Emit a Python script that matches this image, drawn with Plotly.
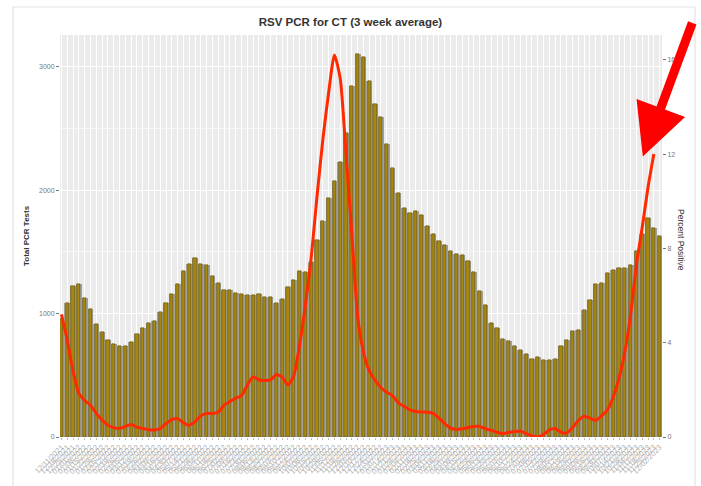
import plotly.graph_objects as go
import pandas as pd

# ---- data ----
week_labels = list(pd.date_range("2021-12-11", periods=104, freq="7D").strftime("%m/%d/%Y"))

total_tests = [
    960, 1090, 1222, 1238, 1130, 1038, 914, 852, 784, 757,
    736, 736, 771, 838, 887, 920, 941, 1014, 1090, 1157,
    1236, 1344, 1406, 1447, 1406, 1398, 1303, 1249, 1190, 1190,
    1171, 1155, 1150, 1150, 1155, 1136, 1136, 1090, 1117, 1217,
    1276, 1344, 1341, 1419, 1595, 1749, 1941, 2076, 2225, 2466,
    2844, 3104, 3082, 2885, 2698, 2590, 2374, 2182, 1974, 1857,
    1817, 1830, 1798, 1709, 1644, 1590, 1555, 1509, 1482, 1474,
    1425, 1339, 1184, 1068, 925, 884, 792, 779, 736, 703,
    671, 630, 650, 622, 627, 632, 736, 790, 860, 871,
    1027, 1114, 1236, 1249, 1330, 1357, 1366, 1366, 1393, 1509,
    1644, 1771, 1690, 1628,
]

percent_positive = [
    5.2, 4.1, 2.8, 1.85, 1.55, 1.35, 1.0, 0.72, 0.5, 0.4,
    0.36, 0.45, 0.53, 0.42, 0.36, 0.31, 0.3, 0.36, 0.57, 0.74,
    0.78, 0.6, 0.5, 0.65, 0.9, 1.0, 1.0, 1.05, 1.35, 1.5,
    1.65, 1.75, 2.2, 2.55, 2.42, 2.4, 2.42, 2.65, 2.55, 2.2,
    2.6, 3.9, 5.6, 7.6, 10.2, 12.6, 14.6, 16.2, 15.2, 12.0,
    8.6, 5.1, 3.6, 2.8, 2.4, 2.1, 1.9, 1.75, 1.45, 1.3,
    1.15, 1.08, 1.06, 1.05, 1.0, 0.8, 0.57, 0.38, 0.32, 0.35,
    0.4, 0.45, 0.45, 0.35, 0.28, 0.2, 0.14, 0.2, 0.22, 0.25,
    0.15, 0.05, 0.0, 0.1, 0.3, 0.36, 0.2, 0.17, 0.4, 0.7,
    0.88, 0.8, 0.71, 0.9, 1.15, 1.7, 2.5, 3.6, 5.2, 7.3,
    8.9, 10.6, 12.0, None,
]

left_ticks = [0, 1000, 2000, 3000]
right_ticks = [0, 4, 8, 12, 16]

# ---- figure ----
idx = list(range(len(week_labels)))

fig = go.Figure()
fig.add_trace(go.Bar(
    x=idx, y=total_tests, width=1.0,
    marker=dict(color="#a39f97", line=dict(width=0)),
    showlegend=False, hoverinfo="skip",
))
fig.add_trace(go.Bar(
    x=idx, y=total_tests, width=0.55,
    marker=dict(color="#a8880c", line=dict(color="#4e4306", width=0.5)),
    showlegend=False, name="Total PCR Tests",
))
fig.add_trace(go.Scatter(
    x=idx, y=percent_positive, yaxis="y2", mode="lines",
    line=dict(color="#ff2a00", width=3, shape="spline", smoothing=0.6),
    showlegend=False, name="Percent Positive", connectgaps=False,
))

font_fam = "Liberation Sans, Arial, sans-serif"

fig.update_layout(
    width=701, height=486,
    margin=dict(l=60, r=39, t=35, b=49),
    paper_bgcolor="white",
    plot_bgcolor="#ebebeb",
    barmode="overlay",
    bargap=0,
    title=dict(text="<b>RSV PCR for CT (3 week average)</b>", x=0.5, xanchor="center",
               y=1 - 22 / 486, yanchor="middle",
               font=dict(family=font_fam, size=11.5, color="#333333")),
    font=dict(family=font_fam),
    xaxis=dict(
        range=[-0.25, 103.4],
        tickmode="array", tickvals=idx, ticktext=week_labels,
        tickangle=-45, tickfont=dict(size=7.5, color="#b0b0b0"),
        showgrid=True, gridcolor="white", gridwidth=1,
        ticks="outside", ticklen=2, tickcolor="#bbbbbb",
        zeroline=False, showline=False, automargin=False,
    ),
    yaxis=dict(
        range=[0, 3258],
        tickvals=left_ticks,
        tickfont=dict(size=7, color="#777777"),
        ticks="outside", ticklen=3, tickcolor="#777777",
        showgrid=True, gridcolor="white", gridwidth=1.2,
        minor=dict(dtick=500, tick0=0, showgrid=True, gridcolor="#f7f7f7", gridwidth=0.6, ticks=""),
        zeroline=False, showline=False, automargin=False,
    ),
    yaxis2=dict(
        range=[0, 17.05],
        overlaying="y", side="right",
        tickvals=right_ticks,
        tickfont=dict(size=7, color="#777777"),
        ticks="outside", ticklen=3, tickcolor="#777777",
        showgrid=False, zeroline=False, showline=False, automargin=False,
    ),
    shapes=[dict(
        type="rect", xref="paper", yref="paper",
        x0=(13 - 60) / 602, x1=(695 - 60) / 602,
        y0=(437 - 492) / 402, y1=(437 - 7) / 402,
        line=dict(color="#e3e3e3", width=1.2), fillcolor="rgba(0,0,0,0)", layer="below",
    )],
    annotations=[
        dict(text="<b>Total PCR Tests</b>", xref="paper", yref="paper",
             x=(26 - 60) / 602, y=(437 - 236) / 402, showarrow=False, textangle=-90,
             xanchor="center", yanchor="middle",
             font=dict(family=font_fam, size=8, color="#333333")),
        dict(text="Percent Positive", xref="paper", yref="paper",
             x=(681 - 60) / 602, y=(437 - 240) / 402, showarrow=False, textangle=90,
             xanchor="center", yanchor="middle",
             font=dict(family=font_fam, size=8.5, color="#333333")),
        dict(text="", x=100.1, y=11.9, xref="x", yref="y2",
             showarrow=True, arrowhead=2, arrowsize=1.15, arrowwidth=9,
             arrowcolor="#ff0000", ax=50, ay=-135, axref="pixel", ayref="pixel",
             standoff=0),
    ],
)

fig.write_html("out.html", config={"displayModeBar": False},
               post_script="document.body.style.margin='0';document.body.style.padding='0';")
